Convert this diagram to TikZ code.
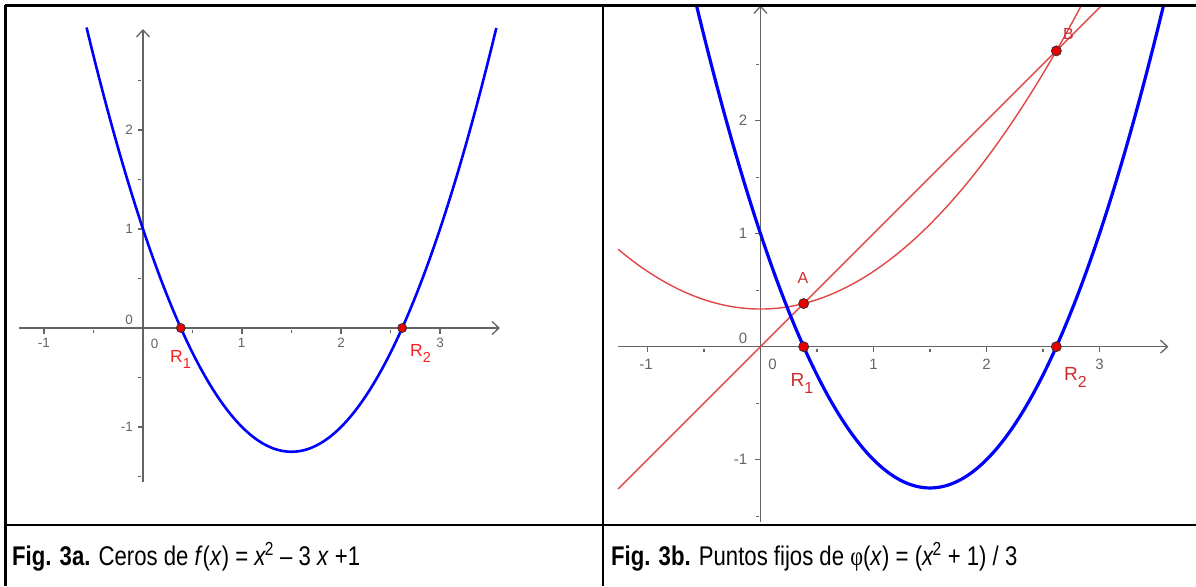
\documentclass[tikz,border=0pt]{standalone}
\usepackage{fontspec}
\setmainfont{Liberation Sans}
\newfontfamily\phifont{Liberation Serif}
\usetikzlibrary{arrows.meta}
\definecolor{axisgray}{RGB}{100,100,100}
\definecolor{fblue}{RGB}{0,0,255}
\definecolor{phired}{RGB}{225,70,70}
\definecolor{labred}{RGB}{255,30,30}
\definecolor{labredb}{RGB}{205,45,45}
\definecolor{ptred}{RGB}{235,0,0}
\begin{document}
\begin{tikzpicture}[x=1pt,y=-1pt,
  frameline/.style={line width=2.8pt, black},
  axis/.style={axisgray, line width=1.3pt},
  axarrow/.style={axis, -{Straight Barb[length=7pt,width=13pt]}},
  fcurveA/.style={fblue, line width=2.6pt, line join=round},
  fcurveB/.style={fblue, line width=3.2pt, line join=round},
  redc/.style={phired, line width=1.4pt},
  ptA/.style={fill=ptred, draw=black!80, line width=0.8pt},
  ticklabA/.style={text=axisgray, inner sep=0pt, font=\fontsize{13.5}{13.5}\selectfont},
  ticklabB/.style={text=axisgray, inner sep=0pt, font=\fontsize{15}{15}\selectfont},
  rlabA/.style={text=labred, inner sep=0pt, anchor=base west, font=\fontsize{17.5}{17.5}\selectfont},
  rlabB/.style={text=labredb, inner sep=0pt, anchor=base west, font=\fontsize{19}{19}\selectfont},
  captext/.style={inner sep=0pt, anchor=base west, font=\fontsize{27}{30}\selectfont, xscale=0.82}
]
\useasboundingbox (0,0) rectangle (1196,586);

% ---------- left plot ----------
\begin{scope}[shift={(143pt,-328pt)}, x=99pt, y=99pt]
  \draw[axarrow] (-1.253,0) -- (3.606,0);
  \draw[axarrow] (0,-1.556) -- (0,3.02);
  \foreach \i in {-1,1,2,3} \draw[axis] (\i,0) -- ++(0,-5.5pt);
  \foreach \i in {-0.5,0.5,1.5,2.5} \draw[axis] (\i,0) ++(0,-2pt) -- ++(0,-3pt);
  \foreach \j in {-1,1,2} \draw[axis] (0,\j) -- ++(-5.5pt,0);
  \foreach \j in {-1.5,-0.5,0.5,1.5,2.5} \draw[axis] (0,\j) ++(-2pt,0) -- ++(-3pt,0);
  \draw[fcurveA] plot[domain=-0.57:3.57, samples=160] (\x,{\x*\x-3*\x+1});
  \coordinate (R1a) at (0.381966,0);
  \coordinate (R2a) at (2.618034,0);
  \filldraw[ptA] (R1a) circle (4.5pt);
  \filldraw[ptA] (R2a) circle (4.5pt);
\end{scope}
\node[ticklabA] (xa-1) at (44,342.7) {-1};
\node[ticklabA] (xa1) at (241.7,342.7) {1};
\node[ticklabA] (xa2) at (341,342.7) {2};
\node[ticklabA] (xa3) at (440,342.7) {3};
\node[ticklabA] (xa0) at (154.7,343.5) {0};
\node[ticklabA, anchor=east] (ya0) at (133,320) {0};
\node[ticklabA, anchor=east] (ya1) at (133,229) {1};
\node[ticklabA, anchor=east] (ya2) at (133,130) {2};
\node[ticklabA, anchor=east] (ya-1) at (133,427) {-1};
\node[rlabA] (labR1a) at (170,362.7) {R\raisebox{-6pt}{\fontsize{14.5}{14.5}\selectfont 1}};
\node[rlabA] (labR2a) at (410,356.7) {R\raisebox{-6pt}{\fontsize{14.5}{14.5}\selectfont 2}};

% ---------- right plot ----------
\begin{scope}
  \clip (605,6.5) rectangle (1196,523);
  \begin{scope}[shift={(760.5pt,-346.7pt)}, x=113pt, y=113pt]
    \draw[axarrow] (-1.26,0) -- (3.61,0);
    \draw[axarrow] (0,-1.55) -- (0,3.02);
    \foreach \i in {-1,1,2,3} \draw[axis] (\i,0) -- ++(0,-5.5pt);
    \foreach \i in {-0.5,0.5,1.5,2.5} \draw[axis] (\i,0) ++(0,-2pt) -- ++(0,-3pt);
    \foreach \j in {-1,1,2} \draw[axis] (0,\j) -- ++(-5.5pt,0);
    \foreach \j in {-1.5,-0.5,0.5,1.5,2.5} \draw[axis] (0,\j) ++(-2pt,0) -- ++(-3pt,0);
    \draw[redc] plot[domain=-1.26:2.95, samples=120] (\x,{(\x*\x+1)/3});
    \draw[redc] (-1.26,-1.26) -- (3.2,3.2);
    \draw[fcurveB] plot[domain=-0.6:3.62, samples=160] (\x,{\x*\x-3*\x+1});
    \coordinate (R1b) at (0.381966,0);
    \coordinate (R2b) at (2.618034,0);
    \coordinate (Ab) at (0.381966,0.381966);
    \coordinate (Bb) at (2.618034,2.618034);
    \filldraw[ptA] (R1b) circle (5pt);
    \filldraw[ptA] (R2b) circle (5pt);
    \filldraw[ptA] (Ab) circle (5pt);
    \filldraw[ptA] (Bb) circle (5pt);
  \end{scope}
\end{scope}
\node[ticklabB] (xb-1) at (646,364.3) {-1};
\node[ticklabB] (xb1) at (873.5,364.3) {1};
\node[ticklabB] (xb2) at (986.5,364.3) {2};
\node[ticklabB] (xb3) at (1099.5,364.3) {3};
\node[ticklabB] (xb0) at (772.5,364) {0};
\node[ticklabB, anchor=east] (yb0) at (747.5,338) {0};
\node[ticklabB, anchor=east] (yb1) at (747.5,233.7) {1};
\node[ticklabB, anchor=east] (yb2) at (747.5,120.7) {2};
\node[ticklabB, anchor=east] (yb-1) at (747.5,459.7) {-1};
\node[rlabB] (labR1b) at (790.5,386) {R\raisebox{-7pt}{\fontsize{16}{16}\selectfont 1}};
\node[rlabB] (labR2b) at (1064,380) {R\raisebox{-7pt}{\fontsize{16}{16}\selectfont 2}};
\node[rlabB, font=\fontsize{16}{16}\selectfont] (labA) at (797.5,283.3) {A};
\node[rlabB, font=\fontsize{16}{16}\selectfont] (labB) at (1063,40) {B};

% ---------- captions ----------
\node[captext] (capa) at (12,565) {\textbf{Fig. 3a.} Ceros de \textit{f}(\textit{x}) = \textit{x}\kern-1.5pt\textsuperscript{2} – 3 \textit{x} +1};
\node[captext] (capb) at (611,565) {\textbf{Fig. 3b.} Puntos fijos de {\phifont φ}(\textit{x}) = (\textit{x}\kern-1.5pt\textsuperscript{2} + 1) / 3};

% ---------- table frame ----------
\draw[frameline] (5.3,5.3) -- (1196,5.3);
\draw[frameline] (5.3,5.3) -- (5.3,586);
\draw[frameline] (603,5.3) -- (603,586);
\draw[frameline] (5.3,525) -- (1196,525);
\end{tikzpicture}
\end{document}
